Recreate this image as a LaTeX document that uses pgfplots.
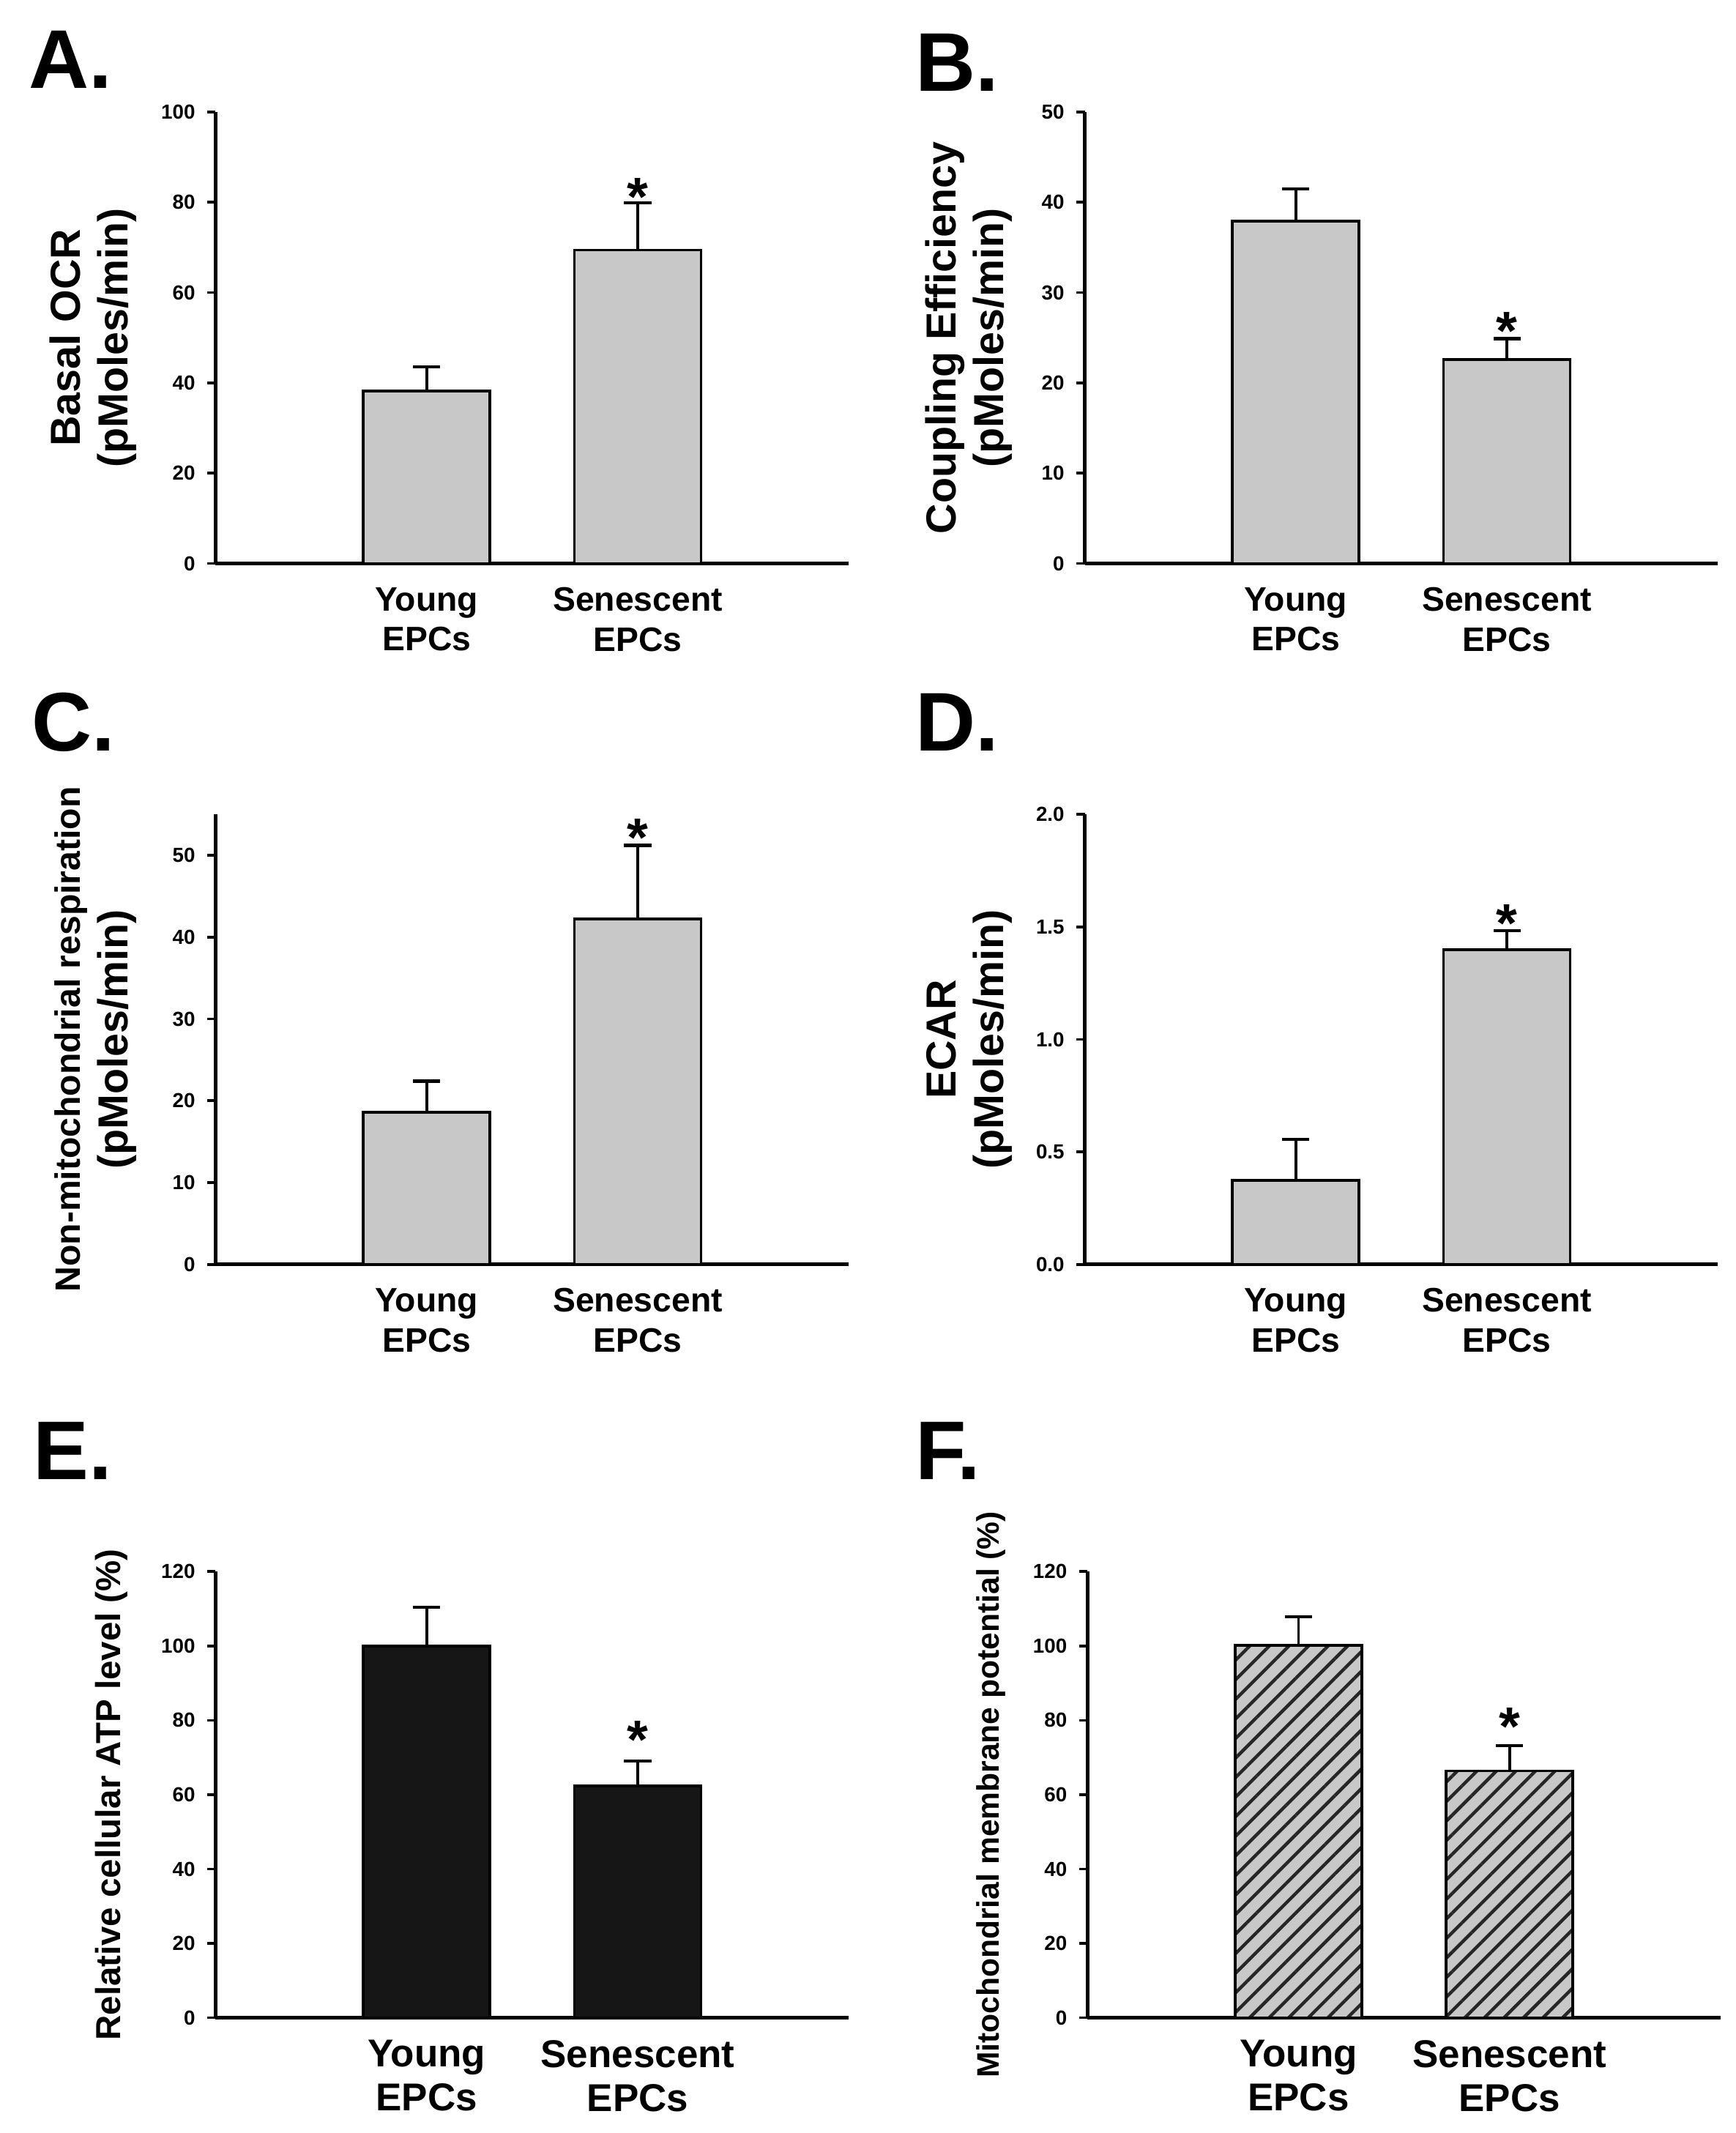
\documentclass[border=0pt]{standalone}
\usepackage{pgfplots}
\pgfplotsset{compat=1.18}
\usepackage{fontspec}
\setmainfont{Liberation Sans}
\usetikzlibrary{patterns.meta}
\definecolor{barGray}{RGB}{200,200,200}
\definecolor{barBlack}{RGB}{22,22,22}

\tikzset{star/.style={font=\fontsize{20}{20}\selectfont\bfseries, anchor=base, inner sep=0pt}}

\pgfplotsset{
  panel/.style={
    scale only axis,
    width=233.5pt,
    axis x line=bottom,
    axis y line=left,
    axis line style={-, line width=1.4pt, black},
    xmin=0, xmax=3,
    ymin=0,
    xtick={1,2},
    xticklabels={{Young\\EPCs},{Senescent\\EPCs}},
    x tick style={draw=none},
    xticklabel style={align=center, font=\fontsize{12.5}{14.75}\selectfont\bfseries, yshift=-2.3pt},
    tick align=outside,
    y tick style={line width=1pt, black},
    major tick length=3pt,
    yticklabel style={font=\fontsize{7.5}{8}\selectfont\bfseries, xshift=-1pt},
    /pgf/number format/assume math mode=true,
    ylabel style={at={(axis description cs:-0.11,0.5)}, anchor=south, align=center, font=\fontsize{15.5}{17.5}\selectfont\bfseries},
    clip=false,
  },
  bars/.style={
    ybar, bar shift=0pt, bar width=0.6, draw=black, line width=1pt,
    error bars/y dir=plus, error bars/y explicit,
    error bars/error bar style={line width=1pt, black},
    error bars/error mark options={rotate=90, mark size=5pt, line width=1.1pt, black},
  },
}

\newcommand{\plabel}[3]{\node[anchor=base west, inner sep=0pt, font=\fontsize{30.7}{31}\selectfont\bfseries] at (#1,#2) {#3};}

\begin{document}
\begin{tikzpicture}
\path[use as bounding box] (0,0) rectangle (640pt,786.5pt);

% Panel labels
\plabel{10.5pt}{754pt}{A.}
\plabel{337.5pt}{753pt}{B.}
\plabel{11.5pt}{509.5pt}{C.}
\plabel{337.5pt}{509.5pt}{D.}
\plabel{12pt}{241pt}{E.}
\plabel{337.5pt}{241pt}{F.}

% A
\begin{axis}[panel, at={(79.5pt,578.7pt)}, anchor=south west, height=166.5pt,
  ymax=100, ytick={0,20,...,100},
  ylabel={Basal OCR\\(pMoles/min)}]
\addplot[bars, fill=barGray] coordinates {(1,38.2) +- (0,5.3) (2,69.4) +- (0,10.5)};
\node[star] at (axis cs:2,80) [yshift=-5pt] {*};
\end{axis}

% B
\begin{axis}[panel, at={(400pt,578.7pt)}, anchor=south west, height=166.5pt,
  ymax=50, ytick={0,10,...,50},
  ylabel style={at={(axis description cs:-0.10,0.5)}},
  ylabel={Coupling Efficiency\\(pMoles/min)}]
\addplot[bars, fill=barGray] coordinates {(1,37.9) +- (0,3.6) (2,22.6) +- (0,2.3)};
\node[star] at (axis cs:2,24.9) [yshift=-4pt] {*};
\end{axis}

% C
\begin{axis}[panel, at={(79.5pt,320.25pt)}, anchor=south west, height=166pt,
  ymax=55, ytick={0,10,...,50},
  ylabel={{\fontsize{13}{15}\selectfont Non-mitochondrial respiration}\\(pMoles/min)}]
\addplot[bars, fill=barGray] coordinates {(1,18.6) +- (0,3.8) (2,42.2) +- (0,9.0)};
\node[star] at (axis cs:2,51.2) [yshift=-4pt] {*};
\end{axis}

% D
\begin{axis}[panel, at={(400pt,320.25pt)}, anchor=south west, height=166pt,
  ymax=2, ytick={0,0.5,...,2.0},
  yticklabel style={/pgf/number format/.cd, fixed, fixed zerofill, precision=1},
  ylabel style={at={(axis description cs:-0.10,0.5)}},
  ylabel={ECAR\\(pMoles/min)}]
\addplot[bars, fill=barGray] coordinates {(1,0.374) +- (0,0.182) (2,1.399) +- (0,0.083)};
\node[star] at (axis cs:2,1.482) [yshift=-4pt] {*};
\end{axis}

% E
\begin{axis}[panel, at={(79.5pt,42.5pt)}, anchor=south west, height=164.5pt,
  ymax=120, ytick={0,20,...,120},
  xticklabel style={font=\fontsize{14.3}{16.2}\selectfont\bfseries, yshift=0.5pt},
  ylabel style={at={(axis description cs:-0.124,0.5)}, font=\fontsize{12.8}{14}\selectfont\bfseries},
  ylabel={Relative cellular ATP level (\%)}]
\addplot[bars, fill=barBlack] coordinates {(1,100) +- (0,10.4) (2,62.4) +- (0,6.7)};
\node[star] at (axis cs:2,69.1) [yshift=1pt] {*};
\end{axis}

% F
\begin{axis}[panel, at={(401pt,42.5pt)}, anchor=south west, height=164.5pt,
  ymax=120, ytick={0,20,...,120},
  xticklabel style={font=\fontsize{14.3}{16.2}\selectfont\bfseries, yshift=0.5pt},
  ylabel style={at={(axis description cs:-0.114,0.5)}, font=\fontsize{11.5}{13}\selectfont\bfseries},
  ylabel={Mitochondrial membrane potential (\%)}]
\addplot[ybar, bar shift=0pt, bar width=0.6, fill=barGray, draw=none, forget plot] coordinates {(1,100.2) (2,66.4)};
\addplot[bars, pattern={Lines[angle=45, distance=5.1pt, line width=1.2pt]}, pattern color=black!85] coordinates {(1,100.2) +- (0,7.7) (2,66.4) +- (0,6.8)};
\node[star] at (axis cs:2,73.2) [yshift=0pt] {*};
\end{axis}
\end{tikzpicture}
\end{document}
